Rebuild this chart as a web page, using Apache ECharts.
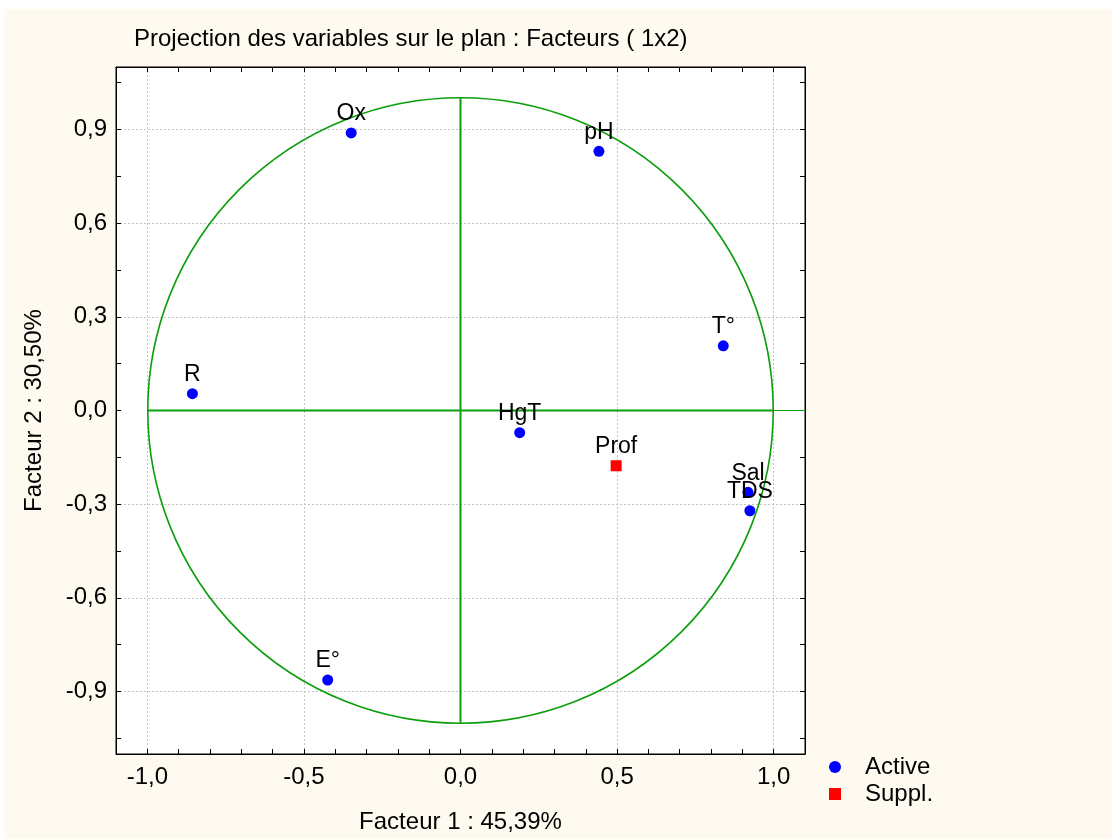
<!DOCTYPE html>
<html>
<head>
<meta charset="utf-8">
<title>Projection des variables</title>
<script src="https://cdn.jsdelivr.net/npm/echarts@6/dist/echarts.min.js"></script>
<style>
    html, body { margin: 0; padding: 0; background: #ffffff; }
    #wrap { position: absolute; left: 4px; top: 9px; right: 0; bottom: 0; background: #fffaf0; }
    #chart { position: absolute; left: 0; top: 0; width: 1112px; height: 839px; }
</style>
</head>
<body>
<div id="wrap"></div>
<div id="chart"></div>
<script>
// variables actives (Facteur 1, Facteur 2)
const activeNames = ['Ox', 'pH', 'T°', 'R', 'HgT', 'Sal', 'TDS', 'E°'];
const activeX = [-0.349, 0.442, 0.839, -0.856, 0.189, 0.918, 0.924, -0.424];
const activeY = [0.889, 0.830, 0.207, 0.054, -0.071, -0.262, -0.321, -0.863];

// variables supplémentaires
const supplNames = ['Prof'];
const supplX = [0.497];
const supplY = [-0.177];

// graduations
const gridX = [-1, -0.5, 0.5, 1];
const gridY = [-0.9, -0.6, -0.3, 0.3, 0.6, 0.9];
const labelY = [-0.9, -0.6, -0.3, 0, 0.3, 0.6, 0.9];
const tickY = [-1.05, -0.9, -0.75, -0.6, -0.45, -0.3, -0.15, 0, 0.15, 0.3, 0.45, 0.6, 0.75, 0.9, 1.05];

const FONT = "'Liberation Sans', Arial, sans-serif";

function fmt(v) {
    return v.toFixed(1).replace('.', ',');
}

let chart = echarts.init(document.getElementById('chart'), null, { renderer: 'canvas' });

let baseX = {
    type: 'value',
    min: -1.1,
    max: 1.1,
    interval: 0.1,
    axisLine: { show: true, onZero: false, lineStyle: { color: '#000', width: 1 } },
    axisTick: { show: true, inside: true, length: 5, lineStyle: { color: '#000' } },
    splitLine: { show: false }
};

let baseY = {
    type: 'value',
    min: -1.1,
    max: 1.1,
    axisLine: { show: true, onZero: false, lineStyle: { color: '#000', width: 1 } },
    axisTick: { show: true, inside: true, length: 5, customValues: tickY, lineStyle: { color: '#000' } },
    splitLine: { show: false }
};

let dashed = { show: true, lineStyle: { color: '#c4c4c4', type: [2, 2], width: 1 } };

let pointLabel = {
    show: true,
    position: 'top',
    distance: 2,
    fontFamily: FONT, fontSize: 23, color: '#000',
    formatter: function (p) { return p.data[2]; }
};

let option = {
    backgroundColor: 'transparent',
    animation: false,
    title: {
        text: 'Projection des variables sur le plan : Facteurs ( 1x2)',
        left: 130,
        top: 27,
        padding: [0, 4],
        textStyle: { fontFamily: FONT, fontSize: 24, fontWeight: 'normal', color: '#000' }
    },
    legend: {
        left: 829,
        top: 755,
        orient: 'vertical',
        itemWidth: 12,
        itemHeight: 12,
        itemGap: 3,
        padding: 0,
        data: ['Active', 'Suppl.'],
        textStyle: { fontFamily: FONT, fontSize: 24, lineHeight: 24, color: '#000', padding: [0, 0, 0, 19] }
    },
    grid: {
        left: 116,
        right: 307,
        top: 67,
        bottom: 84,
        show: true,
        backgroundColor: '#ffffff',
        borderColor: '#000',
        borderWidth: 1
    },
    xAxis: [
        Object.assign({}, baseX, {
            position: 'bottom',
            name: 'Facteur 1 : 45,39%',
            nameLocation: 'middle',
            nameGap: 56,
            nameTextStyle: { fontFamily: FONT, fontSize: 24, color: '#000' },
            axisLabel: {
                margin: 11,
                fontFamily: FONT, fontSize: 24, color: '#000',
                showMinLabel: true, showMaxLabel: true,
                formatter: function (v) {
                    return Math.round(v * 10) % 5 === 0 ? fmt(v) : '';
                }
            }
        }),
        Object.assign({}, baseX, { position: 'top', axisLabel: { show: false } }),
        {
            type: 'value', min: -1.1, max: 1.1, position: 'bottom',
            axisLine: { show: false }, axisLabel: { show: false },
            axisTick: { show: false, customValues: gridX },
            splitLine: dashed
        }
    ],
    yAxis: [
        Object.assign({}, baseY, {
            position: 'left',
            name: 'Facteur 2 : 30,50%',
            nameLocation: 'middle',
            nameGap: 70,
            nameTextStyle: { fontFamily: FONT, fontSize: 24, color: '#000' },
            axisLabel: {
                margin: 9,
                customValues: labelY,
                fontFamily: FONT, fontSize: 24, color: '#000',
                formatter: fmt
            }
        }),
        Object.assign({}, baseY, { position: 'right', axisLabel: { show: false } }),
        {
            type: 'value', min: -1.1, max: 1.1, position: 'left',
            axisLine: { show: false }, axisLabel: { show: false },
            axisTick: { show: false, customValues: gridY },
            splitLine: dashed
        }
    ],
    series: [
        {
            // cercle des corrélations et axes
            type: 'custom',
            xAxisIndex: 0,
            yAxisIndex: 0,
            silent: true,
            z: 1,
            data: [[0, 0]],
            renderItem: function (params, api) {
                let c = api.coord([0, 0]);
                let s = api.size([1, 1]);
                let l = api.coord([-1, 0]);
                let r = api.coord([1, 0]);
                let re = api.coord([1.1, 0]);
                let t = api.coord([0, 1]);
                let b = api.coord([0, -1]);
                let green = '#0a9e0a';
                return {
                    type: 'group',
                    children: [
                        {
                            type: 'circle',
                            shape: { cx: c[0], cy: c[1], r: (s[0] + s[1]) / 2 },
                            style: { fill: null, stroke: green, lineWidth: 1.6 }
                        },
                        {
                            type: 'line',
                            shape: { x1: l[0], y1: l[1], x2: r[0], y2: r[1] },
                            style: { stroke: green, lineWidth: 2 }
                        },
                        {
                            type: 'line',
                            shape: { x1: r[0], y1: r[1], x2: re[0], y2: re[1] },
                            style: { stroke: green, lineWidth: 1 }
                        },
                        {
                            type: 'line',
                            shape: { x1: t[0], y1: t[1], x2: b[0], y2: b[1] },
                            style: { stroke: green, lineWidth: 2 }
                        }
                    ]
                };
            }
        },
        {
            name: 'Active',
            type: 'scatter',
            xAxisIndex: 0,
            yAxisIndex: 0,
            symbol: 'circle',
            symbolSize: 11,
            z: 3,
            itemStyle: { color: '#0000ff', opacity: 1 },
            label: pointLabel,
            data: activeNames.map(function (n, i) { return [activeX[i], activeY[i], n]; })
        },
        {
            name: 'Suppl.',
            type: 'scatter',
            xAxisIndex: 0,
            yAxisIndex: 0,
            symbol: 'rect',
            symbolSize: 11,
            z: 3,
            itemStyle: { color: '#ff0000', opacity: 1 },
            label: pointLabel,
            data: supplNames.map(function (n, i) { return [supplX[i], supplY[i], n]; })
        }
    ]
};

chart.setOption(option);
</script>
</body>
</html>
